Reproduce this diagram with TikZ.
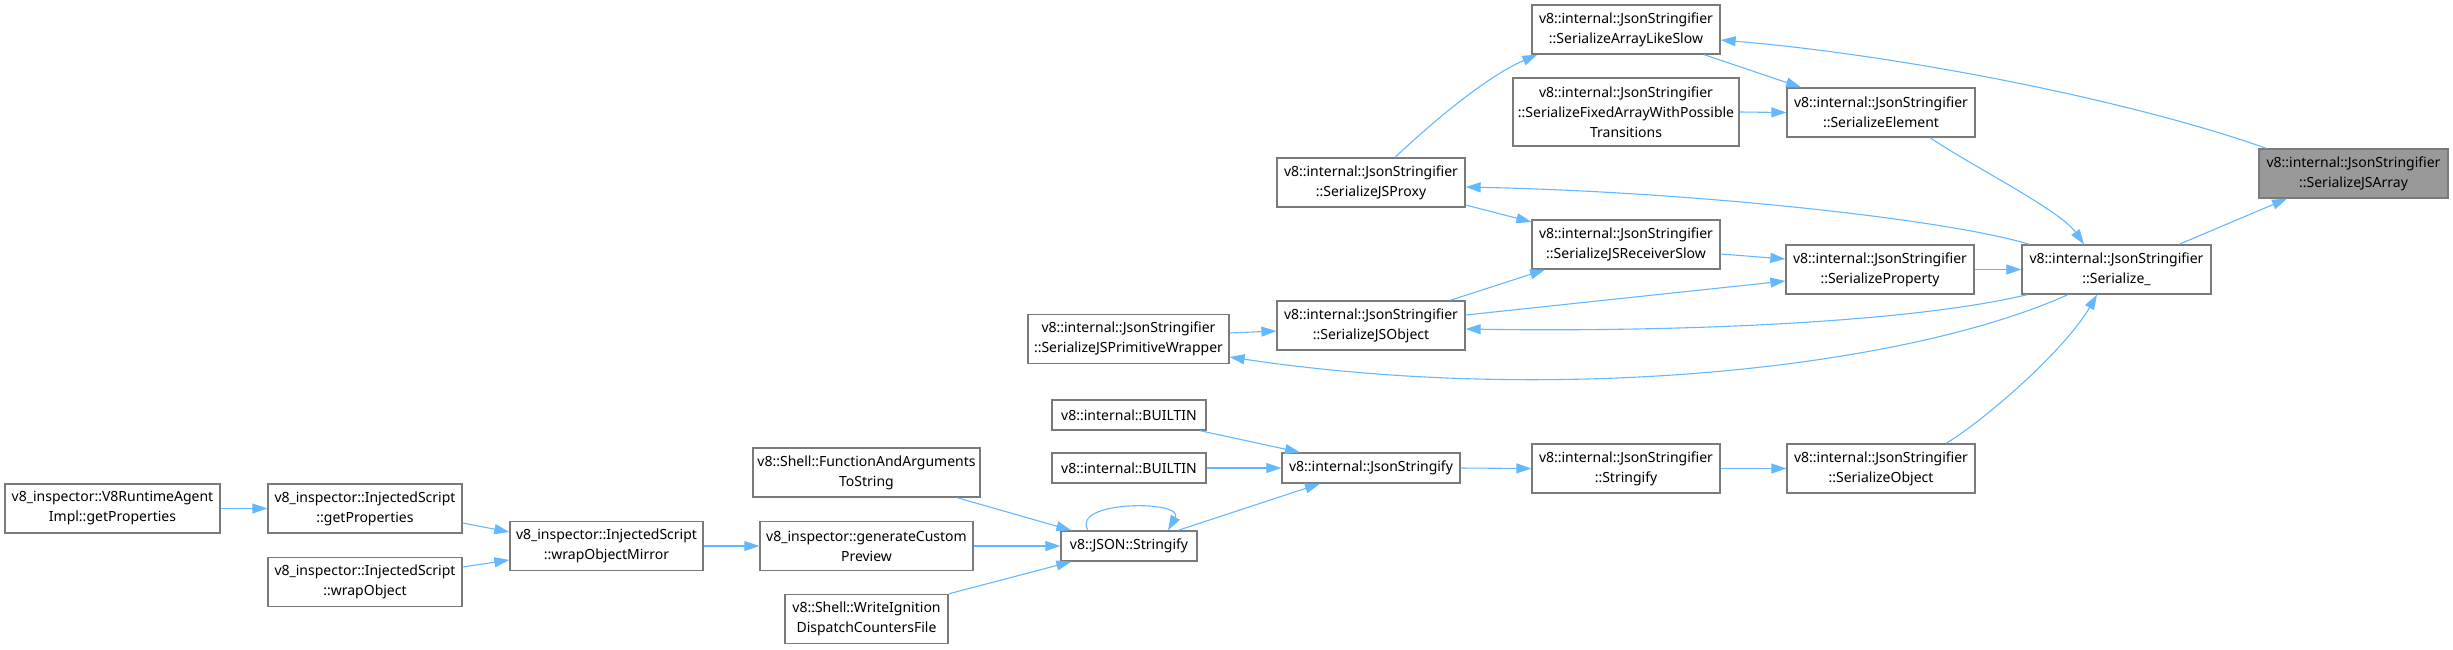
\documentclass[tikz,border=0pt]{standalone}
\usepackage{fontspec}
\setmainfont{Noto Sans}
\usetikzlibrary{arrows.meta}
\definecolor{edgeblue}{HTML}{63B8FF}
\definecolor{boxgray}{HTML}{7A7A7A}
\definecolor{hilite}{HTML}{999999}
\tikzset{fn/.style={draw=boxgray,fill=white,line width=1.3pt,inner sep=0pt,align=center,
  minimum width=188pt,minimum height=49pt,font=\fontsize{14}{20}\selectfont}}
\tikzset{fnone/.style={fn,minimum height=30pt}}
\tikzset{call/.style={draw=edgeblue,line width=1.1pt,-{Triangle[length=15pt,width=10pt]}}}

\begin{document}
\begin{tikzpicture}[x=1pt,y=-1pt]
\useasboundingbox (0,0) rectangle (2453,649);
% create the nodes
\node[fn] (arrlike) at (1626,29.5) {v8::internal::JsonStringifier\\::SerializeArrayLikeSlow};
\node[fn,minimum width=226pt,minimum height=68pt] (fixedarr) at (1626,112) {v8::internal::JsonStringifier\\::SerializeFixedArrayWithPossible\\Transitions};
\node[fn] (elem) at (1881,112.5) {v8::internal::JsonStringifier\\::SerializeElement};
\node[fn,fill=hilite,minimum width=189pt] (jsarray) at (2353.5,173.5) {v8::internal::JsonStringifier\\::SerializeJSArray};
\node[fn] (jsproxy) at (1371,182.5) {v8::internal::JsonStringifier\\::SerializeJSProxy};
\node[fn] (recvslow) at (1626,244.5) {v8::internal::JsonStringifier\\::SerializeJSReceiverSlow};
\node[fn] (prop) at (1880,269.5) {v8::internal::JsonStringifier\\::SerializeProperty};
\node[fn,minimum width=189pt] (ser) at (2116.5,269.5) {v8::internal::JsonStringifier\\::Serialize\_};
\node[fn,minimum width=201pt] (primwrap) at (1128.5,339) {v8::internal::JsonStringifier\\::SerializeJSPrimitiveWrapper};
\node[fn] (jsobj) at (1371,325.5) {v8::internal::JsonStringifier\\::SerializeJSObject};
\node[fnone,minimum width=154pt] (builtinA) at (1129,415) {v8::internal::BUILTIN};
\node[fnone,minimum width=154pt] (builtinB) at (1129,468) {v8::internal::BUILTIN};
\node[fnone,minimum width=178pt] (jsonstr) at (1371,468) {v8::internal::JsonStringify};
\node[fn] (stringify) at (1626,468.5) {v8::internal::JsonStringifier\\::Stringify};
\node[fn] (serobj) at (1881,468.5) {v8::internal::JsonStringifier\\::SerializeObject};
\node[fnone,minimum width=136pt] (jsonstringify) at (1129,546) {v8::JSON::Stringify};
\node[fn,minimum width=227pt] (fnargs) at (866.5,472.5) {v8::Shell::FunctionAndArguments\\ToString};
\node[fn,minimum width=213pt] (custprev) at (866.5,546) {v8\_inspector::generateCustom\\Preview};
\node[fn,minimum width=163pt] (writeign) at (866.5,619) {v8::Shell::WriteIgnition\\DispatchCountersFile};
\node[fn,minimum width=193pt] (wrapmirror) at (606.5,546) {v8\_inspector::InjectedScript\\::wrapObjectMirror};
\node[fn,minimum width=194pt] (injprops) at (365,508.5) {v8\_inspector::InjectedScript\\::getProperties};
\node[fn,minimum width=194pt] (wrapobj) at (365,582) {v8\_inspector::InjectedScript\\::wrapObject};
\node[fn,minimum width=215pt] (agentprops) at (112.5,508.5) {v8\_inspector::V8RuntimeAgent\\Impl::getProperties};
% straight calls, left to right
\foreach \a/\b in {fixedarr/elem,prop/ser,stringify/serobj,jsonstr/stringify,builtinB/jsonstr,custprev/jsonstringify,wrapmirror/custprev,agentprops/injprops}
  \draw[call] (\a.east) -- (\b.west);
\draw[call] ([xshift=78pt]arrlike.south) -- ([xshift=-80pt]elem.north);
\draw[call] ([xshift=62.5pt]ser.north) -- ([xshift=-66.5pt]jsarray.south);
\draw[call] ([yshift=-22.5pt]jsproxy.east) -- ([yshift=22.5pt]recvslow.west);
\draw[call] ([yshift=-9.5pt]recvslow.east) -- ([yshift=10.5pt]prop.west);
\draw[call] ([xshift=79pt]jsobj.north) -- ([xshift=-81pt]recvslow.south);
\draw[call] ([yshift=10.5pt]jsobj.east) -- ([yshift=-11.5pt]prop.west);
\draw[call] ([yshift=6pt]primwrap.east) -- ([yshift=-5.5pt]jsobj.west);
\draw[call] ([xshift=71pt]builtinA.south) -- ([xshift=-71pt]jsonstr.north);
\draw[call] ([xshift=49pt]jsonstringify.north) -- ([xshift=-51pt]jsonstr.south);
\draw[call] ([xshift=90.5pt]fnargs.south) -- ([xshift=11pt]jsonstringify.north west);
\draw[call] (writeign.north east) -- ([xshift=11pt]jsonstringify.south west);
\draw[call] ([yshift=-14.5pt]injprops.east) -- ([yshift=14pt]wrapmirror.west);
\draw[call] ([yshift=15pt]wrapobj.east) -- ([yshift=-14pt]wrapmirror.west);
% curved calls
\draw[call] ([xshift=8pt]jsarray.north west) .. controls (2130,100) and (1900,55) .. ([yshift=-10.5pt]arrlike.east);
\draw[call] ([xshift=49pt]elem.south) .. controls (1970,165) and (2060,210) .. ([xshift=-32.5pt]ser.north);
\draw[call] ([xshift=8pt]ser.north west) .. controls (1950,220) and (1700,192) .. ([yshift=-4.5pt]jsproxy.east);
\draw[call] ([xshift=24pt]jsproxy.north) .. controls (1440,115) and (1490,75) .. ([xshift=6pt]arrlike.south west);
\draw[call] ([xshift=6pt]ser.south west) .. controls (1900,325) and (1650,332) .. ([yshift=-3.5pt]jsobj.east);
\draw[call] ([xshift=-48.5pt]ser.south) .. controls (1900,370) and (1550,405) .. ([yshift=-18pt]primwrap.east);
\draw[call] ([xshift=65pt]serobj.north) .. controls (1985,420) and (2065,350) .. ([xshift=-19.5pt]ser.south);
\draw[call] ([xshift=-41pt]jsonstringify.north) .. controls (1070,500) and (1185,500) .. ([xshift=39pt]jsonstringify.north);
\end{tikzpicture}
\end{document}
